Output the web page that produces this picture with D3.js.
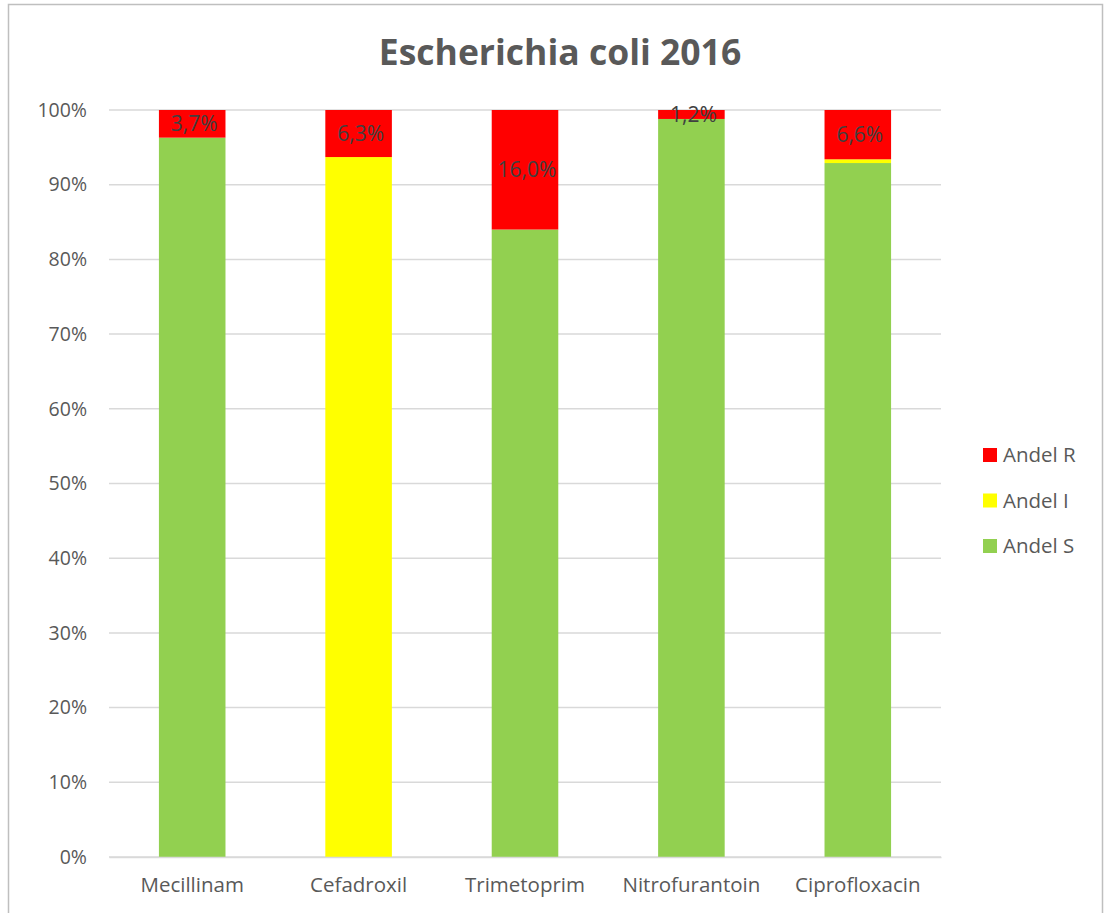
<!DOCTYPE html>
<html><head><meta charset="utf-8">
<script src="https://cdn.jsdelivr.net/npm/d3@7"></script>
<style>body{margin:0;background:#fff}svg{display:block}text{font-family:"Open Sans",sans-serif}</style>
</head><body><svg id="c" width="1106" height="913"></svg>
<script>
const categories = ["Mecillinam","Cefadroxil","Trimetoprim","Nitrofurantoin","Ciprofloxacin"];
const andelS = [96.3, 0, 84.0, 98.8, 92.9];
const andelI = [0, 93.7, 0, 0, 0.5];
const andelR = [3.7, 6.3, 16.0, 1.2, 6.6];
const rLabels = ["3,7%","6,3%","16,0%","1,2%","6,6%"];
const yTicks = [0,10,20,30,40,50,60,70,80,90,100];
const seriesNames = ["Andel S","Andel I","Andel R"];
const colors = {"Andel S":"#92d050","Andel I":"#ffff00","Andel R":"#ff0000"};

const svg = d3.select("#c");
svg.append("rect").attr("x",8.5).attr("y",4.5).attr("width",1094).attr("height",920)
  .attr("fill","#fff").attr("stroke","#bfbfbf").attr("stroke-width",1.5);

const x = d3.scaleBand().domain(categories).range([109,941]).paddingInner(0.6).paddingOuter(0.3);
const y = d3.scaleLinear().domain([0,100]).range([857,110]);

svg.append("text").attr("x",560).attr("y",65).attr("text-anchor","middle")
  .attr("font-size",35.5).attr("font-weight","bold").attr("fill","#595959").text("Escherichia coli 2016");

const g = svg.append("g");
g.selectAll("line.grid").data(yTicks).join("line").attr("class","grid")
  .attr("x1",109).attr("x2",941).attr("y1",d=>y(d)).attr("y2",d=>y(d))
  .attr("stroke","#d9d9d9").attr("stroke-width",1.5);

const yAxis = d3.axisLeft(y).tickValues(yTicks).tickFormat(d=>d+"%").tickSize(0).tickPadding(22);
const ya = svg.append("g").attr("transform","translate(109,0)").call(yAxis);
ya.select(".domain").remove();
ya.selectAll("text").attr("font-size",19.5).attr("fill","#595959").attr("font-family","Open Sans");

const table = categories.map((c,i)=>({cat:c,"Andel S":andelS[i],"Andel I":andelI[i],"Andel R":andelR[i]}));
const stack = d3.stack().keys(seriesNames)(table);
g.selectAll("g.s").data(stack).join("g").attr("fill",d=>colors[d.key])
  .selectAll("rect").data(d=>d).join("rect")
  .attr("x",d=>x(d.data.cat)).attr("width",x.bandwidth())
  .attr("y",d=>y(d[1])).attr("height",d=>y(d[0])-y(d[1]));

const rStack = stack[2];
g.selectAll("text.lbl").data(rStack).join("text").attr("class","lbl")
  .attr("x",d=>x(d.data.cat)+x.bandwidth()/2+2).attr("y",d=>(y(d[0])+y(d[1]))/2)
  .attr("dy","0.35em").attr("text-anchor","middle").attr("font-size",21).attr("fill","#404040")
  .text((d,i)=>rLabels[i]);

const xAxis = d3.axisBottom(x).tickSize(0).tickPadding(20);
const xa = svg.append("g").attr("transform","translate(0,857)").call(xAxis);
xa.select(".domain").attr("stroke","#d9d9d9").attr("stroke-width",1.5);
xa.selectAll("text").attr("font-size",20.5).attr("fill","#595959").attr("font-family","Open Sans");

const legendOrder = ["Andel R","Andel I","Andel S"];
const lg = svg.append("g").selectAll("g").data(legendOrder).join("g")
  .attr("transform",(d,i)=>`translate(983,${448+i*45.5})`);
lg.append("rect").attr("width",14).attr("height",14).attr("fill",d=>colors[d]);
lg.append("text").attr("x",20).attr("y",7).attr("dy","0.35em").attr("font-size",20.5).attr("fill","#595959").text(d=>d);
</script></body></html>
